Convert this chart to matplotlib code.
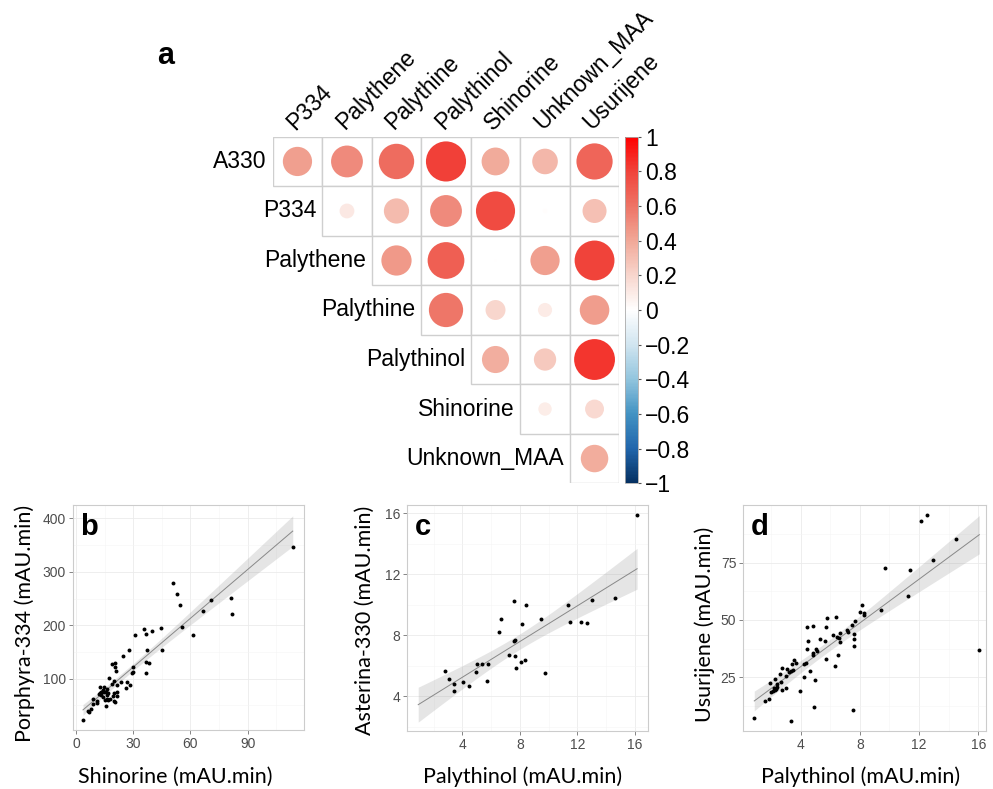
import numpy as np
import matplotlib
matplotlib.use("Agg")
import matplotlib.pyplot as plt
from matplotlib.colors import LinearSegmentedColormap, Normalize
from matplotlib.cm import ScalarMappable
from matplotlib.patches import Circle, Rectangle
from matplotlib.ticker import AutoMinorLocator

# ---- panel a: correlation matrix (upper triangle) ----
row_names = ["A330", "P334", "Palythene", "Palythine", "Palythinol", "Shinorine", "Unknown_MAA"]
col_names = ["P334", "Palythene", "Palythine", "Palythinol", "Shinorine", "Unknown_MAA", "Usurijene"]
corr_rows = [
    [0.43, 0.51, 0.63, 0.81, 0.39, 0.33, 0.66],
    [0.11, 0.32, 0.51, 0.77, 0.01, 0.29],
    [0.46, 0.68, 0.003, 0.43, 0.80],
    [0.59, 0.20, 0.10, 0.44],
    [0.37, 0.25, 0.84],
    [0.09, 0.18],
    [0.38],
]
cbar_ticks = [-1, -0.8, -0.6, -0.4, -0.2, 0, 0.2, 0.4, 0.6, 0.8, 1]
cbar_labels = ["\u22121", "\u22120.8", "\u22120.6", "\u22120.4", "\u22120.2", "0",
               "0.2", "0.4", "0.6", "0.8", "1"]

# ---- panel b: Shinorine vs Porphyra-334 ----
b_shinorine = [3.7, 6.5, 7.0, 7.7, 8.7, 9.1, 11.2, 11.2, 11.9, 12.6, 12.6, 13.3, 13.6, 14.0,
               14.3, 14.9, 14.9, 15.2, 15.7, 16.1, 16.1, 16.3, 16.8, 17.1, 17.8, 18.7, 18.9,
               19.6, 19.9, 20.1, 20.1, 20.3, 20.6, 20.6, 21.2, 21.3, 21.5, 21.7, 23.8, 24.8,
               26.0, 26.9, 28.0, 28.1, 29.2, 29.7, 29.7, 31.1, 35.8, 36.5, 36.7, 36.7, 37.2,
               38.1, 39.9, 44.4, 45.1, 51.0, 53.1, 54.5, 55.6, 61.5, 66.8, 70.8, 81.1, 82.0,
               113.6, 15.6, 17.0, 13.1]
b_p334 = [22.6, 39.4, 38, 43, 62, 52, 57.5, 53.8, 71, 85, 72.5, 69, 75.6, 78.8,
          66, 85, 75.6, 60, 48.8, 80.6, 62.5, 69, 73.7, 102, 62.5, 127, 91,
          68, 57.5, 96, 73.7, 55.6, 129, 122, 114, 67, 75.6, 88, 94, 142,
          83, 94, 153.6, 87.5, 111, 122, 113, 182, 193, 130.5, 183, 110, 153.6,
          129, 190, 195, 154, 279, 259, 238, 197, 182, 227, 247, 251.5, 221.6,
          347, 75.6, 60, 75.6]

# ---- panel c: Palythinol vs Asterina-330 ----
c_palythinol = [16.16, 2.82, 3.05, 3.44, 3.40, 4.02, 4.44, 5.02, 4.95, 5.34, 5.81, 5.74,
                6.57, 6.69, 7.25, 7.60, 7.57, 7.67, 7.67, 7.76, 8.08, 8.36, 8.15, 8.41,
                9.47, 9.77, 11.33, 11.49, 12.26, 12.65, 13.05, 14.63]
c_a330 = [15.9, 5.68, 5.16, 4.81, 4.35, 4.96, 4.68, 6.12, 5.6, 6.12, 6.14, 5.03,
          8.2, 9.07, 6.73, 10.25, 7.6, 7.72, 6.62, 5.84, 6.27, 6.36, 8.74, 9.97,
          9.07, 5.55, 10.01, 8.85, 8.9, 8.81, 10.32, 10.45]
c_smooth_span = [0.93, 16.16]

# ---- panel d: Palythinol vs Usurijene ----
d_palythinol = [0.87, 1.59, 1.89, 1.93, 2.02, 2.15, 2.20, 2.27, 2.31, 2.36, 2.40, 2.29,
                2.43, 2.59, 2.72, 2.70, 2.77, 3.03, 2.99, 3.08, 3.24, 3.33, 3.39, 3.37,
                3.48, 3.57, 3.71, 3.96, 4.20, 4.23, 4.34, 4.41, 4.45, 4.47, 4.63, 4.81,
                4.86, 4.86, 4.90, 4.97, 5.06, 5.08, 5.29, 5.65, 5.69, 5.76, 5.74, 6.19,
                6.30, 6.37, 6.46, 6.52, 6.57, 6.63, 6.63, 7.15, 7.20, 7.49, 7.54, 7.58,
                7.61, 7.61, 7.69, 8.03, 8.12, 8.30, 8.30, 9.45, 9.72, 11.26, 11.41, 12.15,
                12.56, 12.97, 14.52, 16.07]
d_usurijene = [7.1, 14.8, 15.7, 22.7, 18.6, 19.2, 20.2, 19.3, 20.5, 19.8, 20.9, 24.4,
               22.2, 26.3, 28.9, 23.1, 19.3, 20.5, 25.7, 28.6, 27.5, 27.8, 30.8, 5.8,
               28.2, 32.4, 31.1, 18.9, 25.3, 30.8, 31.3, 37.4, 46.9, 40.7, 27.8, 35.6,
               47.4, 34.9, 12.1, 24.0, 37.2, 36.5, 41.7, 40.7, 33.1, 50.7, 47.1, 43.6,
               30.1, 51.3, 42.6, 34.9, 42.2, 40.3, 44.5, 45.6, 44.6, 48.0, 10.9, 44.0,
               41.7, 38.7, 49.7, 53.5, 56.7, 53.2, 52.0, 54.5, 72.5, 60.3, 71.7, 93.0,
               95.8, 76.2, 85.3, 37.1]

W, H = 993, 789
fig = plt.figure(figsize=(W / 100, H / 100), dpi=100)
label_font = "Liberation Sans"

cmap = LinearSegmentedColormap.from_list("corr", [
    (0.0, "#053061"), (0.1, "#2166AC"), (0.2, "#4393C3"), (0.3, "#92C5DE"),
    (0.4, "#D1E5F0"), (0.5, "#FFFFFF"), (0.6, "#F8D6CD"), (0.7, "#F1A898"),
    (0.8, "#EE7466"), (0.9, "#F0443B"), (1.0, "#FF0000")])
norm = Normalize(-1, 1)

# corrplot grid
axc = fig.add_axes([272.7 / W, 1 - 483.3 / H, 346.6 / W, 346.6 / H])
axc.set_xlim(0, 7)
axc.set_ylim(7, 0)
axc.axis("off")
for i, vals in enumerate(corr_rows):
    for k, r in enumerate(vals):
        j = i + k
        axc.add_patch(Rectangle((j, i), 1, 1, facecolor="white", edgecolor="#CFCFCF", lw=1.0))
        axc.add_patch(Circle((j + 0.5, i + 0.5), 0.45 * np.sqrt(abs(r)),
                             facecolor=cmap(norm(r)), edgecolor="none"))
    axc.text(i - 0.12, i + 0.5, row_names[i], ha="right", va="center",
             fontsize=16.5, family=label_font)
for j, name in enumerate(col_names):
    axc.text(j + 0.45, -0.12, name, rotation=45, rotation_mode="anchor",
             ha="left", va="baseline", fontsize=16.5, family=label_font)
fig.text(157 / W, 1 - 64 / H, "a", fontsize=22, fontweight="bold", family=label_font)

cax = fig.add_axes([625 / W, 1 - 483.3 / H, 12.7 / W, 346.6 / H])
cb = fig.colorbar(ScalarMappable(norm=norm, cmap=cmap), cax=cax, ticks=cbar_ticks)
cb.ax.set_yticklabels(cbar_labels)
cb.ax.tick_params(length=2.5, width=0.8, color="#555555", labelsize=16.5, pad=3)
for t in cb.ax.get_yticklabels():
    t.set_family(label_font)
cb.outline.set_edgecolor("#AAAAAA")
cb.outline.set_linewidth(0.6)


def scatter_panel(rect, x, y, letter, xlim, ylim, xticks, yticks, span=None):
    ax = fig.add_axes(rect)
    x = np.array(x, float)
    y = np.array(y, float)
    n = len(x)
    slope, icpt = np.polyfit(x, y, 1)
    lo, hi = (x.min(), x.max()) if span is None else span
    xs = np.linspace(lo, hi, 100)
    resid = y - (slope * x + icpt)
    s = np.sqrt(np.sum(resid ** 2) / (n - 2))
    se = s * np.sqrt(1 / n + (xs - x.mean()) ** 2 / np.sum((x - x.mean()) ** 2))
    fit = slope * xs + icpt
    ax.fill_between(xs, fit - 2.0 * se, fit + 2.0 * se, color="#999999", alpha=0.25,
                    lw=0, zorder=2)
    ax.plot(xs, fit, color="#888888", lw=0.7, zorder=3)
    ax.scatter(x, y, s=8, color="black", lw=0, zorder=4)
    ax.set_xlim(xlim)
    ax.set_ylim(ylim)
    ax.set_xticks(xticks)
    ax.set_yticks(yticks)
    ax.xaxis.set_minor_locator(AutoMinorLocator(2))
    ax.yaxis.set_minor_locator(AutoMinorLocator(2))
    ax.grid(which="major", color="#EBEBEB", lw=0.6, zorder=0)
    ax.grid(which="minor", color="#F5F5F5", lw=0.4, zorder=0)
    ax.set_axisbelow(True)
    ax.tick_params(which="major", length=3, width=0.5, color="#555555",
                   labelsize=10, labelcolor="#4D4D4D", pad=2)
    ax.tick_params(which="minor", length=0)
    for t in ax.get_xticklabels() + ax.get_yticklabels():
        t.set_family(label_font)
    for sp in ax.spines.values():
        sp.set_color("#CCCCCC")
        sp.set_linewidth(0.8)
    ax.text(0.03, 0.965, letter, transform=ax.transAxes, ha="left", va="top",
            fontsize=21, fontweight="bold", family=label_font)
    return ax


scatter_panel([72.7 / W, 1 - 730 / H, 231.3 / W, 225 / H], b_shinorine, b_p334, "b",
              (-1.7, 119.5), (4, 425), [0, 30, 60, 90], [100, 200, 300, 400])
scatter_panel([407.3 / W, 1 - 730.7 / H, 241 / W, 225.7 / H], c_palythinol, c_a330, "c",
              (0.17, 16.94), (1.75, 16.55), [4, 8, 12, 16], [4, 8, 12, 16], span=c_smooth_span)
scatter_panel([743.3 / W, 1 - 730.7 / H, 242.4 / W, 225.7 / H], d_palythinol, d_usurijene, "d",
              (0.13, 16.5), (1.74, 100.1), [4, 8, 12, 16], [25, 50, 75])

title_font = "Lato"
for xc, txt in [(175, "Shinorine (mAU.min)"), (523, "Palythinol (mAU.min)"),
                (860.5, "Palythinol (mAU.min)")]:
    fig.text(xc / W, 1 - 776.7 / H, txt, ha="center", va="center", fontsize=15.5,
             family=title_font)
for xc, yc, txt in [(25, 623.3, "Porphyra-334 (mAU.min)"), (365, 620.8, "Asterina-330 (mAU.min)"),
                    (704.7, 624, "Usurijene (mAU.min)")]:
    fig.text(xc / W, 1 - yc / H, txt, ha="center", va="center", rotation=90,
             fontsize=15.5, family=title_font)

fig.savefig("out.png", dpi=100)
plt.close(fig)
